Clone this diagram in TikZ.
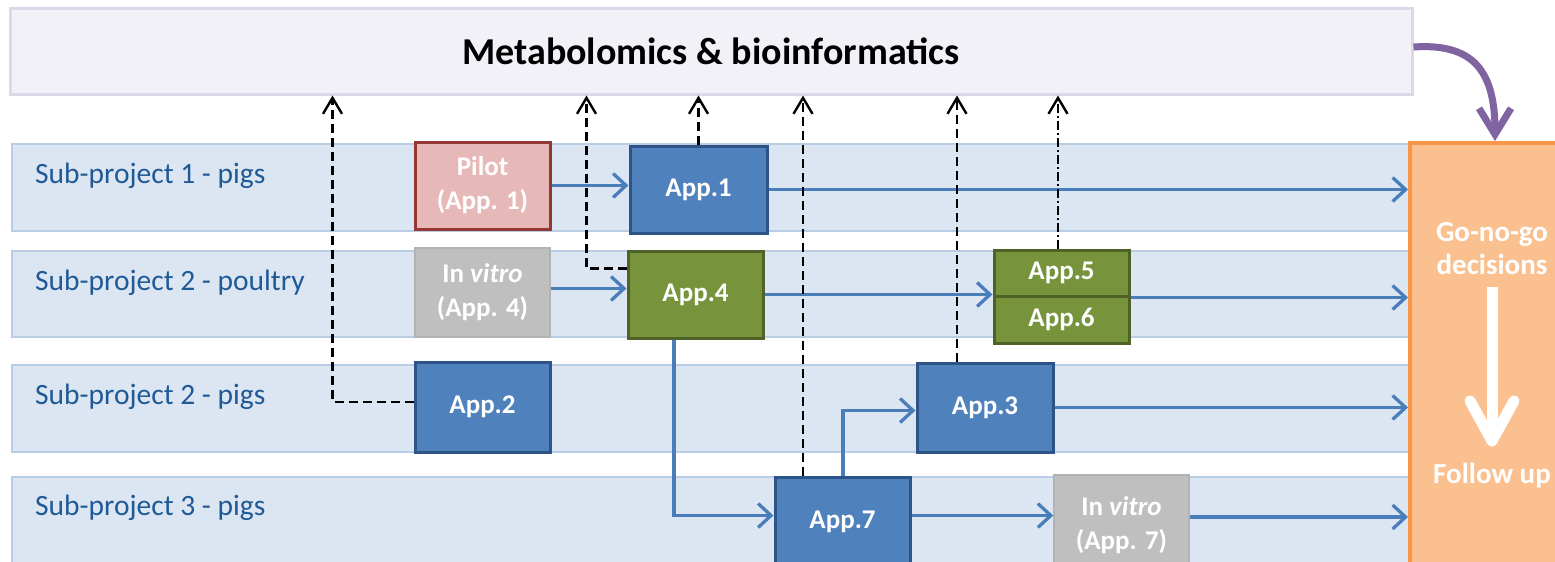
\documentclass[tikz,border=0pt]{standalone}
\usepackage{fontspec}
\setmainfont{Carlito}
\usetikzlibrary{arrows.meta}
\definecolor{lanefill}{HTML}{DCE6F2}
\definecolor{laneline}{HTML}{B9CDE5}
\definecolor{lanetext}{HTML}{1F5A96}
\definecolor{topfill}{HTML}{F2F1F7}
\definecolor{topline}{HTML}{DDD8E9}
\definecolor{bluefill}{HTML}{4F81BD}
\definecolor{blueline}{HTML}{2E5387}
\definecolor{greenfill}{HTML}{77933C}
\definecolor{greenline}{HTML}{4F6228}
\definecolor{pinkfill}{HTML}{E6B9B8}
\definecolor{pinkline}{HTML}{953735}
\definecolor{grayfill}{HTML}{BFBFBF}
\definecolor{grayline}{HTML}{B3B3B3}
\definecolor{orfill}{HTML}{FAC090}
\definecolor{orline}{HTML}{F79646}
\definecolor{arrowblue}{HTML}{4A7EBB}
\definecolor{purp}{HTML}{8064A2}
\begin{document}
\begin{tikzpicture}[x=1pt,y=-1pt,
  lane/.style={draw=laneline, fill=lanefill, line width=2pt, minimum width=1400pt, inner sep=0pt},
  lanelabel/.style={anchor=base west, text=lanetext, font=\fontsize{29.5}{35}\selectfont, inner sep=0pt},
  box/.style={line width=3pt, inner sep=0pt, text=white, align=center, font=\fontsize{27}{34}\selectfont\bfseries, minimum width=135pt},
  bluebox/.style={box, draw=blueline, fill=bluefill},
  greenbox/.style={box, draw=greenline, fill=greenfill},
  pinkbox/.style={box, draw=pinkline, fill=pinkfill},
  graybox/.style={box, draw=grayline, line width=1.5pt, fill=grayfill},
  wtext/.style={text=white, align=center, font=\fontsize{29}{33}\selectfont\bfseries, inner sep=0pt},
  flow/.style={draw=arrowblue, line width=3.3pt, -{Straight Barb[length=13pt,width=24pt]}},
  meta/.style={draw=black, line width=2.4pt, dash pattern=on 9pt off 5pt, -{Straight Barb[length=16pt,width=19pt]}},
  metadot/.style={draw=black, line width=2.4pt, dash pattern=on 9pt off 3pt on 2pt off 3pt, -{Straight Barb[length=16pt,width=19pt]}}
]
\useasboundingbox (0,0) rectangle (1555,562);
\clip (0,0) rectangle (1555,562);
\fill[white] (0,0) rectangle (1555,562);

% lanes
\node[lane, minimum height=87pt] (l1) at (712,187.5) {};
\node[lane, minimum height=86pt] (l2) at (712,294) {};
\node[lane, minimum height=87pt] (l3) at (712,408.5) {};
\node[lane, minimum height=93pt] (l4) at (712,523.5) {};
\node[lanelabel] (s1) at (35,183) {Sub-project 1 - pigs};
\node[lanelabel] (s2) at (35,290) {Sub-project 2 - poultry};
\node[lanelabel] (s3) at (35,404) {Sub-project 2 - pigs};
\node[lanelabel] (s4) at (35,515) {Sub-project 3 - pigs};

% top box
\node[draw=topline, fill=topfill, line width=3pt, minimum width=1402pt, minimum height=86pt, inner sep=0pt,
      font=\fontsize{38}{45}\selectfont\bfseries] (t) at (711,51) {Metabolomics \& bioinformatics};

% orange box
\node[draw=orline, fill=orfill, line width=4pt, minimum width=170pt, minimum height=460pt, inner sep=0pt] (go) at (1495,373) {};
\node[wtext] (gotxt) at (1492,249) {Go-no-go\\decisions};
\node[wtext, anchor=base] (fu) at (1492,483) {Follow up};
\draw[white, line width=11pt, -{Straight Barb[round,length=40pt,width=44pt]}] ([yshift=-12pt]gotxt.south) -- ([yshift=16pt]fu.north);

% boxes
\node[pinkbox, minimum height=87pt] (pilot) at (482.5,185.5) {Pilot\\(App. 1)};
\node[bluebox, minimum width=137pt, minimum height=87pt] (a1) at (698.5,189.5) {App.1};
\node[graybox, minimum height=89pt] (iv4) at (482.5,292.5) {In \textit{vitro}\\(App. 4)};
\node[greenbox, minimum height=87pt] (a4) at (695.5,294.5) {App.4};
\node[greenbox, minimum height=46pt] (a5) at (1061.5,273) {App.5};
\node[greenbox, minimum height=47pt] (a6) at (1061.5,319.5) {App.6};
\node[bluebox, minimum height=90pt] (a2) at (482.5,407) {App.2};
\node[bluebox, minimum width=136pt, minimum height=89pt] (a3) at (985,407.5) {App.3};
\node[bluebox, minimum height=89pt] (a7) at (842.5,521.5) {App.7};
\node[graybox, minimum height=100pt] (iv7) at (1121.5,525) {In \textit{vitro}\\(App. 7)};

% flow arrows
\draw[flow] (pilot.east) -- (pilot.east -| a1.west);
\draw[flow] (a1.east) -- (a1.east -| go.west);
\draw[flow] ([yshift=4pt]iv4.east) -- ([yshift=4pt]iv4.east -| a4.west);
\draw[flow] (a4.east) -- (a4.east -| a5.west);
\draw[flow] (a5.south east) -- (a5.south east -| go.west);
\draw[flow] ([xshift=-21.5pt]a4.south) |- ([yshift=6pt]a7.west);
\draw[flow] ([xshift=0.5pt]a7.north) |- ([yshift=-3pt]a3.west);
\draw[flow] (a3.east) -- (a3.east -| go.west);
\draw[flow] ([yshift=6pt]a7.east) -- ([yshift=6pt]a7.east -| iv7.west);
\draw[flow] ([yshift=8pt]iv7.east) -- ([yshift=8pt]iv7.east -| go.west);

% metabolomics links
\draw[meta] ([yshift=5pt]a2.west) -| ([xshift=-81pt]a2.west |- t.south);
\draw[meta] ([yshift=26pt]a4.west) -| ([xshift=-40pt]a4.west |- t.south);
\draw[meta] (a1.north) -- (a1.north |- t.south);
\draw[meta] ([xshift=-39.5pt]a7.north) -- ([xshift=-39.5pt]a7.north |- t.south);
\draw[meta] ([xshift=-28pt]a3.north) -- ([xshift=-28pt]a3.north |- t.south);
\draw[metadot] ([xshift=-3.5pt]a5.north) -- ([xshift=-3.5pt]a5.north |- t.south);

% purple arrow
\draw[purp, line width=7pt, -{Straight Barb[length=26pt,width=32pt]}]
  ([yshift=4pt]t.east) .. controls +(60,-4) and +(0,-70) .. (go.north);
\end{tikzpicture}
\end{document}
